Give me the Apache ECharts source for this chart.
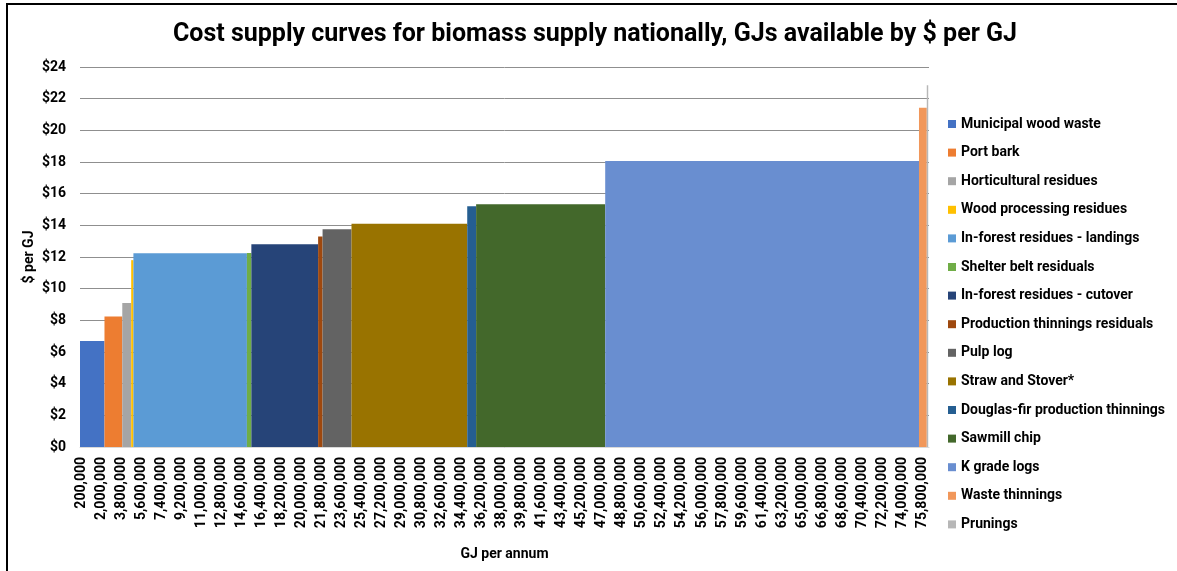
<!DOCTYPE html>
<html>
<head>
<meta charset="utf-8">
<title>Cost supply curves for biomass supply</title>
<script src="https://cdn.jsdelivr.net/npm/echarts@6/dist/echarts.min.js"></script>
<style>
  html, body { margin: 0; padding: 0; background: #fff; }
  #chart { width: 1177px; height: 571px; }
</style>
</head>
<body>
<div id="chart"></div>
<script>
// biomass sources, in the order they come along the curve
var sources = [
  "Municipal wood waste",
  "Port bark",
  "Horticultural residues",
  "Wood processing residues",
  "In-forest residues - landings",
  "Shelter belt residuals",
  "In-forest residues - cutover",
  "Production thinnings residuals",
  "Pulp log",
  "Straw and Stover*",
  "Douglas-fir production thinnings",
  "Sawmill chip",
  "K grade logs",
  "Waste thinnings",
  "Prunings"
]
// cumulative GJ where each block starts / ends
var startGJ = [100000, 2300000, 3900000, 4700000, 4900000, 15100000, 15500000, 21500000, 21900000, 24500000, 34900000, 35700000, 47300000, 75500000, 76200000]
var endGJ = [2300000, 3900000, 4700000, 4900000, 15100000, 15500000, 21500000, 21900000, 24500000, 34900000, 35700000, 47300000, 75500000, 76200000, 76330000]
// $ per GJ
var costs = [6.7, 8.24, 9.1, 11.8, 12.23, 12.25, 12.8, 13.3, 13.75, 14.1, 15.2, 15.33, 18.07, 21.42, 22.85]
// x axis tick labels (GJ per annum)
var xTicks = [200000, 2000000, 3800000, 5600000, 7400000, 9200000, 11000000, 12800000, 14600000,
  16400000, 18200000, 20000000, 21800000, 23600000, 25400000, 27200000, 29000000, 30800000,
  32600000, 34400000, 36200000, 38000000, 39800000, 41600000, 43400000, 45200000, 47000000,
  48800000, 50600000, 52400000, 54200000, 56000000, 57800000, 59600000, 61400000, 63200000,
  65000000, 66800000, 68600000, 70400000, 72200000, 74000000, 75800000]

// Office 颜色
var colors = ["#4472C4", "#ED7D31", "#A5A5A5", "#FFC000", "#5B9BD5", "#70AD47", "#264478",
  "#9E480E", "#636363", "#997300", "#255E91", "#43682B", "#698ED0", "#F1975A", "#B7B7B7"]

var myChart = echarts.init(document.getElementById("chart"))
var font = "Roboto, 'Liberation Sans', sans-serif"

// 每个来源画成一个矩形
function renderBlock(params, api) {
  var p0 = api.coord([api.value(0), api.value(2)])
  var p1 = api.coord([api.value(1), 0])
  return {
    type: "rect",
    shape: { x: p0[0], y: p0[1], width: p1[0] - p0[0], height: p1[1] - p0[1] },
    style: { fill: api.visual("color") }
  }
}

var series = sources.map(function (name, i) {
  return {
    name: name,
    type: "custom",
    renderItem: renderBlock,
    encode: { x: [0, 1], y: 2 },
    data: [[startGJ[i], endGJ[i], costs[i]]]
  }
})

var option = {
  animation: false,
  color: colors,
  title: {
    text: "Cost supply curves for biomass supply nationally, GJs available by $ per GJ",
    left: 590,
    textAlign: "center",
    top: 17,
    textStyle: { fontFamily: font, fontSize: 25, fontWeight: "bold", color: "#000" }
  },
  legend: {
    orient: "vertical",
    left: 943,
    top: 112,
    itemWidth: 8,
    itemHeight: 8,
    itemGap: 14.6,
    icon: "rect",
    textStyle: { fontFamily: font, fontSize: 14, fontWeight: "bold", color: "#000" }
  },
  grid: { left: 80, right: 248, top: 67, bottom: 124 },
  xAxis: {
    type: "value",
    min: 100000,
    max: 76400000,
    name: "GJ per annum",
    nameLocation: "middle",
    nameGap: 100,
    nameMoveOverlap: false,
    nameTextStyle: { fontFamily: font, fontSize: 14, fontWeight: "bold", color: "#000" },
    axisLine: { lineStyle: { color: "#d9d9d9" } },
    axisTick: { show: false },
    splitLine: { show: false },
    axisLabel: {
      customValues: xTicks,
      rotate: 90,
      margin: 10,
      fontFamily: font,
      fontSize: 14,
      fontWeight: "bold",
      color: "#000",
      formatter: function (v) { return v.toLocaleString("en-US") }
    }
  },
  yAxis: {
    type: "value",
    min: 0,
    max: 24,
    interval: 2,
    name: "$ per GJ",
    nameLocation: "middle",
    nameRotate: 90,
    nameGap: 44,
    nameMoveOverlap: false,
    nameTextStyle: { fontFamily: font, fontSize: 14, fontWeight: "bold", color: "#000" },
    axisLine: { show: false },
    axisTick: { show: false },
    splitLine: { lineStyle: { color: "#8f8f8f" } },
    axisLabel: {
      margin: 14,
      fontFamily: font,
      fontSize: 14,
      fontWeight: "bold",
      color: "#000",
      formatter: function (v) { return "$" + v }
    }
  },
  // 外框
  graphic: [{
    type: "rect",
    shape: { x: 7, y: 4, width: 1200, height: 700 },
    style: { fill: null, stroke: "#000", lineWidth: 2 },
    silent: true
  }],
  series: series
}
myChart.setOption(option)
</script>
</body>
</html>
